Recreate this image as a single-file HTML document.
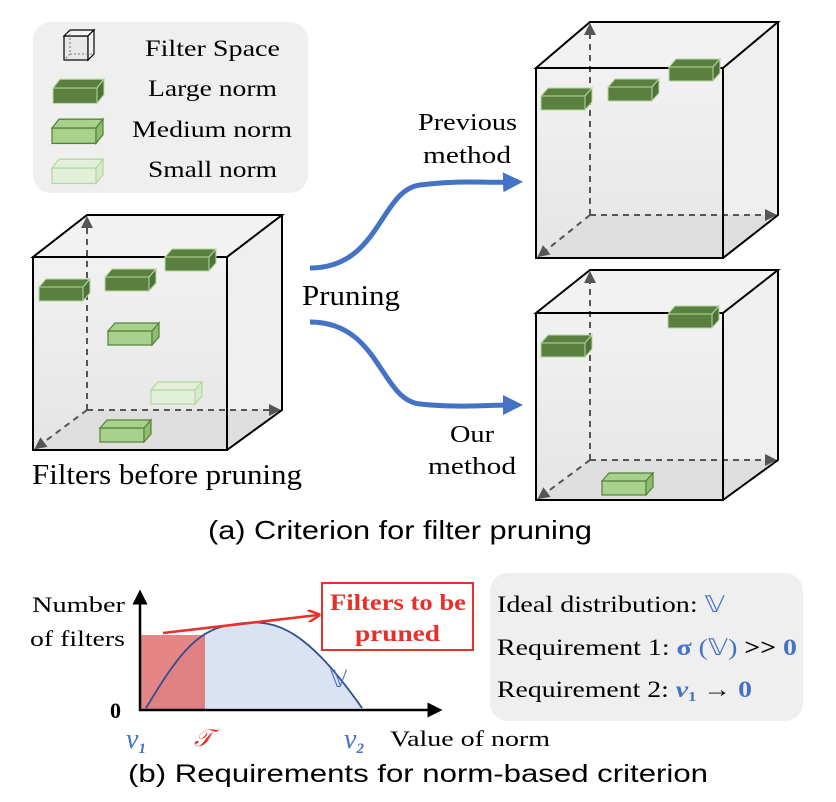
<!DOCTYPE html>
<html><head><meta charset="utf-8"><style>
body{margin:0;background:#fff}
svg{display:block}
text{font-family:"Liberation Serif",serif;fill:#000}
.s{font-family:"Liberation Sans",sans-serif}
</style></head><body>
<svg width="836" height="802" viewBox="0 0 836 802" xmlns="http://www.w3.org/2000/svg">
<defs>
<marker id="ad" markerWidth="6" markerHeight="6" refX="5" refY="3" orient="auto"><path d="M0,0L6,3L0,6z" fill="#555"/></marker>
<marker id="ab" markerWidth="4" markerHeight="4" refX="2" refY="2" orient="auto"><path d="M0,0L4,2L0,4z" fill="#4472c4"/></marker>
<marker id="ak" markerWidth="6" markerHeight="6" refX="5" refY="3" orient="auto"><path d="M0,0L6,3L0,6z" fill="#000"/></marker>
<marker id="ar" markerWidth="5" markerHeight="5" refX="4" refY="2.5" orient="auto"><path d="M0,0L5,2.5L0,5" fill="none" stroke="#e8302a" stroke-width="1"/></marker>
<g id="L"><rect x="0" y="0" width="44" height="14" fill="#5a8040" stroke="#b8d8a0" stroke-width="1"/><polygon points="0,0 7,-8 51,-8 44,0" fill="#5a8040" stroke="#b8d8a0"/><polygon points="44,0 51,-8 51,6 44,14" fill="#4f7238" stroke="#b8d8a0"/></g>
<g id="M"><rect x="0" y="0" width="44" height="14" fill="#a9d18e" stroke="#548235" stroke-width="1.2"/><polygon points="0,0 7,-8 51,-8 44,0" fill="#a9d18e" stroke="#548235" stroke-width="1.2"/><polygon points="44,0 51,-8 51,6 44,14" fill="#8fbc70" stroke="#548235" stroke-width="1.2"/></g>
<g id="S"><rect x="0" y="0" width="44" height="14" fill="#e2efd9" stroke="#b5d7a0" stroke-width="1.2"/><polygon points="0,0 7,-8 51,-8 44,0" fill="#e2efd9" stroke="#b5d7a0" stroke-width="1.2"/><polygon points="44,0 51,-8 51,6 44,14" fill="#d8e9cc" stroke="#b5d7a0" stroke-width="1.2"/></g>
<linearGradient id="fl" x1="0" y1="0" x2="0" y2="1"><stop offset="0" stop-color="#f0f0f0"/><stop offset="1" stop-color="#e2e2e2"/></linearGradient>
</defs>

<!-- legend -->
<rect x="33" y="22" width="275" height="171" rx="18" fill="#efefef"/>
<g transform="translate(64,30)">
<rect x="0" y="6" width="24" height="24" fill="#e8e8e8" stroke="#000" stroke-width="1.2"/>
<polygon points="0,6 6,0 30,0 24,6" fill="#f2f2f2" stroke="#000" stroke-width="1.2"/>
<polygon points="24,6 30,0 30,24 24,30" fill="#f2f2f2" stroke="#000" stroke-width="1.2"/>
<path d="M6,0V24H30M6,24L0,30" stroke="#777" stroke-dasharray="2,2" fill="none"/>
</g>
<text x="145" y="56" font-size="23" textLength="135" lengthAdjust="spacingAndGlyphs">Filter Space</text>
<use href="#L" transform="translate(53,88) scale(1.0,1.1)"/>
<text x="148" y="96" font-size="23" textLength="129" lengthAdjust="spacingAndGlyphs">Large norm</text>
<use href="#M" transform="translate(52,128) scale(1.0,1.1)"/>
<text x="132" y="137" font-size="23" textLength="160" lengthAdjust="spacingAndGlyphs">Medium norm</text>
<use href="#S" transform="translate(52,168) scale(1.0,1.1)"/>
<text x="148" y="177" font-size="23" textLength="129" lengthAdjust="spacingAndGlyphs">Small norm</text>

<!-- left cube -->
<g>
<polygon points="33,257 87,215 282,215 227,257" fill="#f2f2f2"/>
<polygon points="227,257 282,215 282,410 227,450" fill="#efefef"/>
<rect x="33" y="257" width="194" height="193" fill="url(#fl)" opacity="0.9"/>
<polygon points="33,450 87,410 282,410 227,450" fill="#dedede"/>
<path d="M87,410V218" stroke="#555" stroke-width="2" stroke-dasharray="6,5" fill="none" marker-end="url(#ad)"/>
<path d="M87,410H279" stroke="#555" stroke-width="2" stroke-dasharray="6,5" fill="none" marker-end="url(#ad)"/>
<path d="M87,410L36,448" stroke="#555" stroke-width="2" stroke-dasharray="6,5" fill="none" marker-end="url(#ad)"/>
<path d="M33,257L87,215H282L227,257ZM227,450L282,410V215M33,257V450H227V257" fill="none" stroke="#000" stroke-width="2"/>
<use href="#L" transform="translate(39,287)"/>
<use href="#L" transform="translate(105,277)"/>
<use href="#L" transform="translate(165,257)"/>
<use href="#M" transform="translate(108,331)"/>
<use href="#S" transform="translate(151,390)"/>
<use href="#M" transform="translate(100,428)"/>
</g>
<text x="32" y="484" font-size="28" textLength="270" lengthAdjust="spacingAndGlyphs">Filters before pruning</text>

<!-- top right cube -->
<g>
<polygon points="536,68 590,22 778,22 723,68" fill="#f2f2f2"/>
<polygon points="723,68 778,22 778,215 723,258" fill="#efefef"/>
<rect x="536" y="68" width="187" height="190" fill="url(#fl)" opacity="0.9"/>
<polygon points="536,258 590,215 778,215 723,258" fill="#dedede"/>
<path d="M590,215V25" stroke="#555" stroke-width="2" stroke-dasharray="6,5" fill="none" marker-end="url(#ad)"/>
<path d="M590,215H775" stroke="#555" stroke-width="2" stroke-dasharray="6,5" fill="none" marker-end="url(#ad)"/>
<path d="M590,215L539,256" stroke="#555" stroke-width="2" stroke-dasharray="6,5" fill="none" marker-end="url(#ad)"/>
<path d="M536,68L590,22H778L723,68ZM723,258L778,215V22M536,68V258H723V68" fill="none" stroke="#000" stroke-width="2"/>
<use href="#L" transform="translate(541,96)"/>
<use href="#L" transform="translate(608,87)"/>
<use href="#L" transform="translate(669,67)"/>
</g>

<!-- bottom right cube -->
<g>
<polygon points="536,313 590,270 778,270 723,313" fill="#f2f2f2"/>
<polygon points="723,313 778,270 778,460 723,500" fill="#efefef"/>
<rect x="536" y="313" width="187" height="187" fill="url(#fl)" opacity="0.9"/>
<polygon points="536,500 590,460 778,460 723,500" fill="#dedede"/>
<path d="M590,460V273" stroke="#555" stroke-width="2" stroke-dasharray="6,5" fill="none" marker-end="url(#ad)"/>
<path d="M590,460H775" stroke="#555" stroke-width="2" stroke-dasharray="6,5" fill="none" marker-end="url(#ad)"/>
<path d="M590,460L539,498" stroke="#555" stroke-width="2" stroke-dasharray="6,5" fill="none" marker-end="url(#ad)"/>
<path d="M536,313L590,270H778L723,313ZM723,500L778,460V270M536,313V500H723V313" fill="none" stroke="#000" stroke-width="2"/>
<use href="#L" transform="translate(541,343)"/>
<use href="#L" transform="translate(668,314)"/>
<use href="#M" transform="translate(602,481)"/>
</g>

<!-- arrows -->
<path d="M310,268C380,268 380,190 420,185C460,180 480,183 513,182" stroke="#4472c4" stroke-width="5" fill="none" marker-end="url(#ab)"/>
<path d="M310,322C380,322 380,400 420,404C460,408 480,405 513,405" stroke="#4472c4" stroke-width="5" fill="none" marker-end="url(#ab)"/>
<text x="302" y="305" font-size="28" textLength="98" lengthAdjust="spacingAndGlyphs">Pruning</text>
<text x="418" y="130" font-size="24" textLength="99" lengthAdjust="spacingAndGlyphs">Previous</text>
<text x="423" y="163" font-size="24" textLength="88" lengthAdjust="spacingAndGlyphs">method</text>
<text x="450" y="442" font-size="24" textLength="44" lengthAdjust="spacingAndGlyphs">Our</text>
<text x="428" y="474" font-size="24" textLength="88" lengthAdjust="spacingAndGlyphs">method</text>
<text x="208" y="539" font-size="26" class="s" textLength="384" lengthAdjust="spacingAndGlyphs">(a) Criterion for filter pruning</text>

<!-- chart -->
<path d="M146,708C175,660 195,630 230,625C270,618 300,620 362,708Z" fill="#dae3f3"/>
<rect x="140" y="635" width="65" height="75" fill="#e06666" opacity="0.8"/>
<path d="M146,708C175,660 195,630 230,625C270,618 300,620 362,708" fill="none" stroke="#2f4f8f" stroke-width="1.8"/>
<path d="M140,711V592" stroke="#000" stroke-width="2.5" fill="none" marker-end="url(#ak)"/>
<path d="M139,710H440" stroke="#000" stroke-width="2.5" fill="none" marker-end="url(#ak)"/>
<path d="M163,633L318,615" stroke="#e8302a" stroke-width="2.5" fill="none" marker-end="url(#ar)"/>
<rect x="322" y="583" width="151" height="67" fill="#fff" stroke="#e8302a" stroke-width="2"/>
<text x="330" y="610" font-size="23" font-weight="bold" style="fill:#e8302a" textLength="136" lengthAdjust="spacingAndGlyphs">Filters to be</text>
<text x="355" y="641" font-size="23" font-weight="bold" style="fill:#e8302a" textLength="85" lengthAdjust="spacingAndGlyphs">pruned</text>
<text x="330" y="687" font-size="24" style="fill:#4472c4">𝕍</text>
<text x="32" y="612" font-size="22" textLength="93" lengthAdjust="spacingAndGlyphs">Number</text>
<text x="30" y="646" font-size="22" textLength="95" lengthAdjust="spacingAndGlyphs">of filters</text>
<text x="110" y="718" font-size="22" font-weight="bold">0</text>
<text x="126" y="748" font-size="28" font-style="italic" style="fill:#4472c4">v<tspan font-size="15" dy="5" font-weight="bold">1</tspan></text>
<text x="194" y="746" font-size="24" font-style="italic" style="fill:#e8302a">𝒯</text>
<text x="344" y="748" font-size="28" font-style="italic" style="fill:#4472c4">v<tspan font-size="15" dy="5" font-weight="bold">2</tspan></text>
<text x="390" y="746" font-size="22" textLength="160" lengthAdjust="spacingAndGlyphs">Value of norm</text>

<rect x="490" y="573" width="313" height="148" rx="18" fill="#efefef"/>
<text x="497" y="612" font-size="23" textLength="228" lengthAdjust="spacingAndGlyphs">Ideal distribution: <tspan style="fill:#4472c4">𝕍</tspan></text>
<text x="497" y="655" font-size="23" textLength="300" lengthAdjust="spacingAndGlyphs">Requirement 1: <tspan style="fill:#4472c4" font-weight="bold">σ</tspan> <tspan style="fill:#4472c4">(𝕍)</tspan> <tspan font-weight="bold">&gt;&gt;</tspan> <tspan style="fill:#4472c4" font-weight="bold">0</tspan></text>
<text x="497" y="697" font-size="23" textLength="255" lengthAdjust="spacingAndGlyphs">Requirement 2: <tspan style="fill:#4472c4" font-weight="bold" font-style="italic">v</tspan><tspan style="fill:#4472c4" font-weight="bold" font-size="14" dy="4">1</tspan><tspan dy="-4"> → </tspan><tspan style="fill:#4472c4" font-weight="bold">0</tspan></text>
<text x="128" y="782" font-size="25" class="s" textLength="580" lengthAdjust="spacingAndGlyphs">(b) Requirements for norm-based criterion</text>
</svg>
</body></html>
